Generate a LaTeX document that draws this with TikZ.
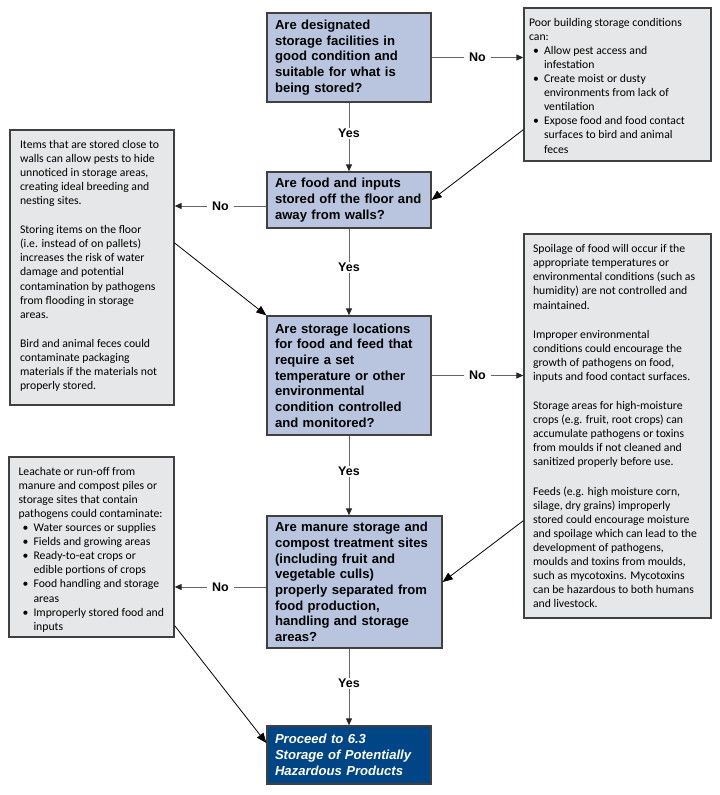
\documentclass[tikz,border=0pt]{standalone}
\usepackage{fontspec}
\setmainfont{Carlito}
\newfontfamily\arialfont{Liberation Sans}
\usetikzlibrary{arrows.meta}

\begin{document}
\begin{tikzpicture}[x=1pt, y=-1pt,
    box/.style={draw=rim, line width=1.3pt, inner sep=0pt, align=left},
    frage/.style={box, fill=qblue, text width=#1, inner xsep=8pt,
        font=\arialfont\bfseries\fontsize{13.1}{15.7}\selectfont},
    info/.style={box, fill=infogray},
    infotxt/.style={anchor=north west, inner sep=0pt, align=left, font=\fontsize{11.7}{14.1}\selectfont},
    lbl/.style={fill=white, inner xsep=5pt, inner ysep=1pt, font=\arialfont\bfseries\fontsize{12.5}{14}\selectfont},
    pfeil/.style={draw=black!60, line width=1pt, -{Triangle[length=7pt,width=6pt,color=black!85]}},
    schraeg/.style={draw=black, line width=0.8pt, -{Triangle[length=10pt,width=8pt]}}]

    % Farben
    \definecolor{qblue}{RGB}{185,197,223}
    \definecolor{infogray}{RGB}{230,231,232}
    \definecolor{resblue}{RGB}{0,69,134}
    \definecolor{rim}{RGB}{64,64,64}

    % Aufzaehlung
    \def\bul{\makebox[15pt][l]{\hspace{4pt}\textbullet}}
    \def\ind{\hspace*{15pt}}
    \def\gap{15pt}   % Absatzabstand

    \useasboundingbox (0,0) rectangle (720,795);

    % Fragen
    \node[frage=148pt, minimum height=89pt] (q1) at (349,57.5)
        {Are designated\\storage facilities in\\good condition and\\suitable for what is\\being stored?};
    \node[frage=148pt, minimum height=56pt] (q2) at (349,200)
        {Are food and inputs\\stored off the floor and\\away from walls?};
    \node[frage=148pt, minimum height=119pt] (q3) at (349,375.5)
        {Are storage locations\\for food and feed that\\require a set\\temperature or other\\environmental\\condition controlled\\and monitored?};
    \node[frage=159pt, minimum height=132pt] (q4) at (354.5,582)
        {Are manure storage and\\compost treatment sites\\(including fruit and\\vegetable culls)\\properly separated from\\food production,\\handling and storage\\areas?};
    \node[frage=148pt, fill=resblue, text=white, minimum height=58pt,
        font=\arialfont\bfseries\itshape\fontsize{13.1}{15.7}\selectfont] (res) at (349,755)
        {Proceed to 6.3\\Storage of Potentially\\Hazardous Products};

    % Hinweise
    \node[info, minimum width=187pt, minimum height=153pt] (r1) at (617.5,84.5) {};
    \node[infotxt] (r1t) at ([xshift=5.5pt,yshift=-10.5pt]r1.north west)
        {Poor building storage conditions\\can:\\
         \bul Allow pest access and\\\ind infestation\\
         \bul Create moist or dusty\\\ind environments from lack of\\\ind ventilation\\
         \bul Expose food and food contact\\\ind surfaces to bird and animal\\\ind feces};

    \node[info, minimum width=164pt, minimum height=275pt] (l1) at (92,267.5) {};
    \node[infotxt] (l1t) at ([xshift=10.5pt,yshift=-10.5pt]l1.north west)
        {Items that are stored close to\\walls can allow pests to hide\\unnoticed in storage areas,\\creating ideal breeding and\\nesting sites.\\[\gap]
         Storing items on the floor\\(i.e. instead of on pallets)\\increases the risk of water\\damage and potential\\contamination by pathogens\\from flooding in storage\\areas.\\[\gap]
         Bird and animal feces could\\contaminate packaging\\materials if the materials not\\properly stored.};

    \node[info, minimum width=187pt, minimum height=384pt] (r2) at (617.5,426) {};
    \node[infotxt] (r2t) at ([xshift=9.5pt,yshift=-11pt]r2.north west)
        {Spoilage of food will occur if the\\appropriate temperatures or\\environmental conditions (such as\\humidity) are not controlled and\\maintained.\\[\gap]
         Improper environmental\\conditions could encourage the\\growth of pathogens on food,\\inputs and food contact surfaces.\\[\gap]
         Storage areas for high-moisture\\crops (e.g. fruit, root crops) can\\accumulate pathogens or toxins\\from moulds if not cleaned and\\sanitized properly before use.\\[\gap]
         Feeds (e.g. high moisture corn,\\silage, dry grains) improperly\\stored could encourage moisture\\and spoilage which can lead to the\\development of pathogens,\\moulds and toxins from moulds,\\such as mycotoxins. Mycotoxins\\can be hazardous to both humans\\and livestock.};

    \node[info, minimum width=165pt, minimum height=180pt] (l2) at (91.5,547) {};
    \node[infotxt] (l2t) at ([xshift=10pt,yshift=-10.5pt]l2.north west)
        {Leachate or run-off from\\manure and compost piles or\\storage sites that contain\\pathogens could contaminate:\\
         \bul Water sources or supplies\\
         \bul Fields and growing areas\\
         \bul Ready-to-eat crops or\\\ind edible portions of crops\\
         \bul Food handling and storage\\\ind areas\\
         \bul Improperly stored food and\\\ind inputs};

    % Ja
    \foreach \a/\b in {q1/q2, q2/q3, q3/q4, q4/res}
        \draw[pfeil] (\a.south -| res.north) -- node[lbl, pos=.45] {Yes} (\b.north -| res.north);

    % Nein
    \coordinate (n2) at ([yshift=-6pt]q2.west);
    \coordinate (n4) at ([yshift=-5pt]q4.west);
    \draw[pfeil] (q1.east) -- node[lbl] {No} (q1.east -| r1.west);
    \draw[pfeil] (n2) -- node[lbl] {No} (n2 -| l1.east);
    \draw[pfeil] (q3.east) -- node[lbl] {No} (q3.east -| r2.west);
    \draw[pfeil] (n4) -- node[lbl] {No} (n4 -| l2.east);

    % Querverweise
    \draw[schraeg] ([yshift=32pt]r1.south west) -- (q2.east);
    \draw[schraeg] ([yshift=24.5pt]l1.east) -- (q3.north west);
    \draw[schraeg] ([yshift=98pt]r2.south west) -- (q4.east);
    \draw[schraeg] ([yshift=12pt]l2.south east) -- ([yshift=12pt]res.west);

\end{tikzpicture}
\end{document}
